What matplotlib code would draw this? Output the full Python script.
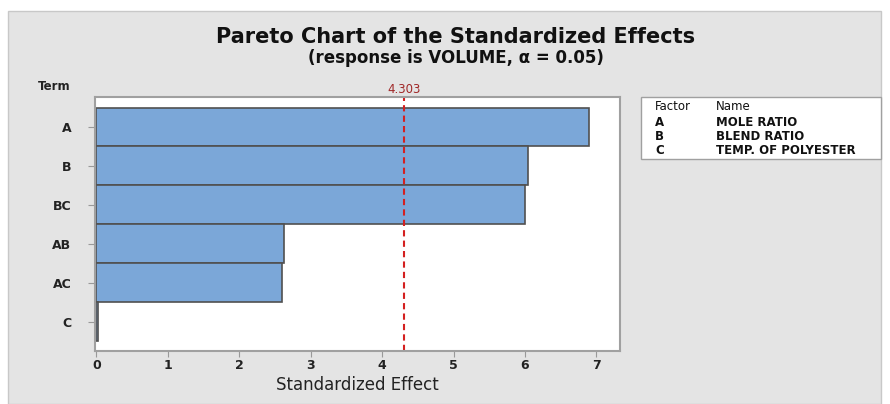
import matplotlib.pyplot as plt
from matplotlib.patches import Rectangle

terms = ['A', 'B', 'BC', 'AB', 'AC', 'C']
effects = [6.90, 6.04, 6.00, 2.63, 2.60, 0.015]
crit = 4.303
factors = ['A', 'B', 'C']
names = ['MOLE RATIO', 'BLEND RATIO', 'TEMP. OF POLYESTER']

W, H = 890, 404
fig = plt.figure(figsize=(W / 100, H / 100), dpi=100)
fig.patch.set_facecolor('white')

# gray panel like minitab
fig.patches.append(Rectangle((8 / W, 0), (881 - 8) / W, (H - 11) / H, transform=fig.transFigure,
                             facecolor='#e4e4e4', edgecolor='#c8c8c8', lw=1, zorder=-10))

ax = fig.add_axes([95 / W, 1 - 351 / H, (620 - 95) / W, (351 - 97) / H])
ax.set_facecolor('white')
pos = list(range(len(terms)))
ax.barh(pos, effects, height=1.0, color='#7ba7d8', edgecolor='#505050', linewidth=1.2)
ax.axvline(crit, color='#d42020', ls=(0, (3, 2)), lw=1.5)
ax.set_xlim(-0.02, 7.33)
ax.set_ylim(5.75, -0.77)
ax.set_yticks(pos)
ax.set_yticklabels(terms, fontsize=9, fontweight='semibold', color='#222222')
ax.set_xticks(range(8))
ax.set_xticklabels([str(i) for i in range(8)], fontsize=9, fontweight='semibold', color='#222222')
ax.tick_params(axis='y', length=5, color='#999999', pad=12)
ax.tick_params(axis='x', length=4, color='#999999', pad=2)
for s in ax.spines.values():
    s.set_color('#a0a0a0')
    s.set_linewidth(1.5)

ax.text(crit, -0.8, '4.303', color='#a02828', fontsize=8.5, ha='center', va='bottom')
ax.set_xlabel('Standardized Effect', fontsize=12, color='#222222', labelpad=3)

fig.text(456 / W, 1 - 37 / H, 'Pareto Chart of the Standardized Effects', fontsize=15,
         fontweight='bold', ha='center', va='center', color='#111111')
fig.text(456 / W, 1 - 58 / H, '(response is VOLUME, \u03b1 = 0.05)', fontsize=12,
         fontweight='semibold', ha='center', va='center', color='#111111')
fig.text(38 / W, 1 - 87 / H, 'Term', fontsize=8.5, fontweight='semibold', ha='left', va='center',
         color='#222222')

# factor legend box
fig.patches.append(Rectangle((641 / W, 1 - 159 / H), (881 - 641) / W, (159 - 97) / H,
                             transform=fig.transFigure, facecolor='white', edgecolor='#a0a0a0',
                             lw=1))
rows_y = [107, 122, 136, 151]
fig.text(655 / W, 1 - rows_y[0] / H, 'Factor', fontsize=8.5, ha='left', va='center', color='#111111')
fig.text(716 / W, 1 - rows_y[0] / H, 'Name', fontsize=8.5, ha='left', va='center', color='#111111')
for f, n, y in zip(factors, names, rows_y[1:]):
    fig.text(655 / W, 1 - y / H, f, fontsize=8.5, fontweight='semibold', ha='left', va='center', color='#111111')
    fig.text(716 / W, 1 - y / H, n, fontsize=8.5, fontweight='semibold', ha='left', va='center', color='#111111')

fig.savefig('out.png', dpi=100)
